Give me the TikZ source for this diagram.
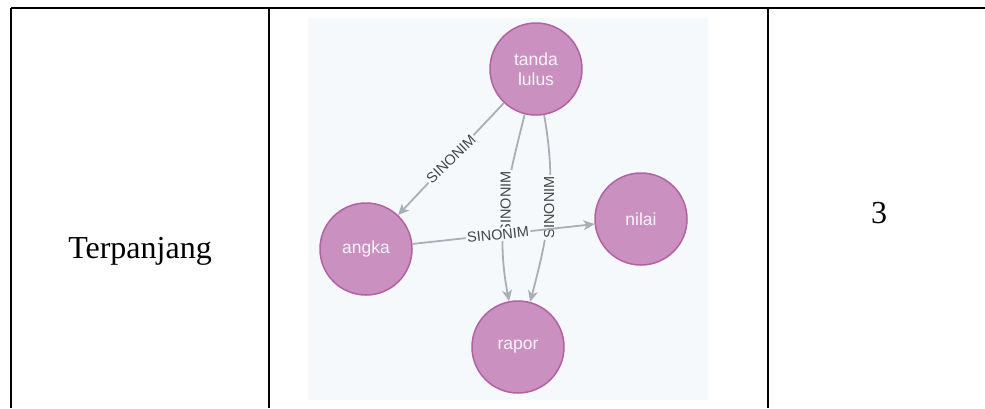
\documentclass[tikz,border=0pt]{standalone}
\usepackage{fontspec}
\setmainfont{Liberation Serif}
\newfontfamily\graphfont{Liberation Sans}
\usetikzlibrary{arrows.meta}

\definecolor{panelbg}{HTML}{F6F9FC}
\definecolor{nodefill}{HTML}{C990C0}
\definecolor{nodeedge}{HTML}{B261A5}
\definecolor{nodetext}{HTML}{FBF3FA}
\definecolor{edgegray}{HTML}{AAAEB5}
\definecolor{labelgray}{HTML}{454545}

\tikzset{
  rule/.style={line width=2pt, black},
  cell/.style={anchor=base, inner sep=0pt, font=\fontsize{32}{38}\selectfont},
  term/.style={circle, minimum size=92pt, inner sep=0pt, fill=nodefill, draw=nodeedge,
    line width=1.5pt, text=nodetext, align=center, font=\graphfont\fontsize{17.5}{19.5}\selectfont},
  rel/.style={draw=edgegray, line width=1.8pt,
    -{Stealth[length=11pt, width=10pt, inset=3pt]}},
  rellabel/.style={fill=panelbg, inner sep=1.5pt, text=labelgray,
    font=\graphfont\fontsize{14.5}{15}\selectfont}
}

\begin{document}
\begin{tikzpicture}[x=1pt, y=-1pt]
  \useasboundingbox (0,0) rectangle (985,408);

  % table rules: top border and column dividers
  \draw[rule] (11,8) -- (985,8);
  \draw[rule] (11,8) -- (11,408);
  \draw[rule] (269,8) -- (269,408);
  \draw[rule] (768,8) -- (768,408);

  % table text
  \node[cell] (kind) at (140,258) {Terpanjang};
  \node[cell] (count) at (879,223) {3};

  % graph panel
  \fill[panelbg] (308,18) rectangle (708,400);

  \node[term] (tl) at (536,69) {tanda\\lulus};
  \node[term] (ak) at (366,249) {angka};
  \node[term] (nl) at (641,219) {nilai};
  \node[term] (rp) at (518,347) {rapor};

  \draw[rel] (tl) -- (ak) node[midway, rotate=44, rellabel] {SINONIM};
  \draw[rel] (tl) to[out=256, in=101] node[pos=0.47, rotate=90, rellabel] {SINONIM} (rp);
  \draw[rel] (tl) to[out=280, in=75] node[pos=0.49, rotate=90, rellabel] {SINONIM} (rp);
  \draw[rel] (ak) -- (nl) node[pos=0.47, rotate=6, rellabel] {SINONIM};
\end{tikzpicture}
\end{document}
